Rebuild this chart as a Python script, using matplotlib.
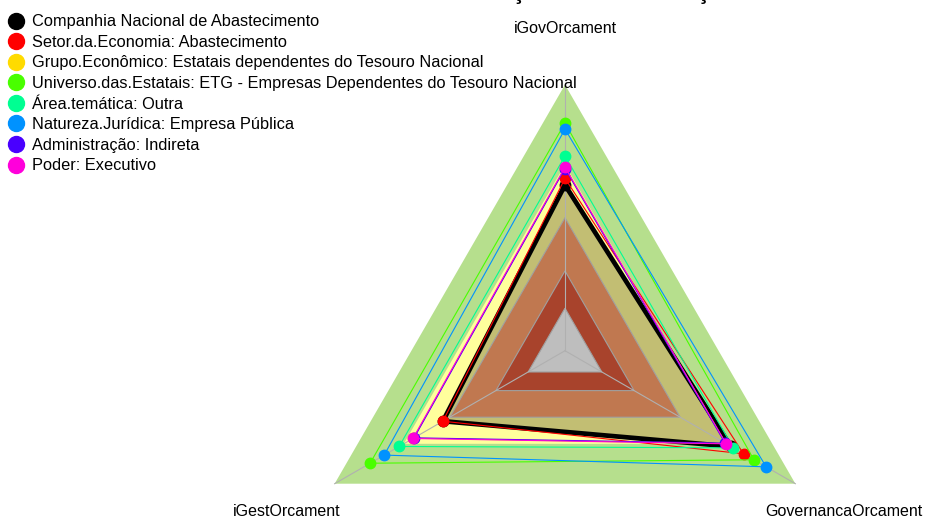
import numpy as np
import matplotlib
matplotlib.use("Agg")
import matplotlib.pyplot as plt
from matplotlib.lines import Line2D

plt.rcParams['font.family'] = ['Liberation Sans', 'DejaVu Sans']

# radar axes: first at the top, then counter-clockwise
axis_labels = ["iGovOrcament", "iGestOrcament", "GovernancaOrcament"]

series_names = [
    "Companhia Nacional de Abastecimento",
    "Setor.da.Economia: Abastecimento",
    "Grupo.Econômico: Estatais dependentes do Tesouro Nacional",
    "Universo.das.Estatais: ETG - Empresas Dependentes do Tesouro Nacional",
    "Área.temática: Outra",
    "Natureza.Jurídica: Empresa Pública",
    "Administração: Indireta",
    "Poder: Executivo",
]
series_colors = ["#000000", "#FF0000", "#FFDB00", "#49FF00",
                 "#00FF92", "#0092FF", "#4900FF", "#FF00DB"]

# values in axis order (iGov, iGest, Governanca)
v_conab = [0.623, 0.53, 0.72]
v_setor = [0.648, 0.53, 0.775]
v_grupo = [0.688, 0.658, 0.698]
v_universo = [0.856, 0.846, 0.82]
v_area = [0.732, 0.72, 0.73]
v_natureza = [0.833, 0.785, 0.873]
v_admin = [0.685, 0.655, 0.695]
v_poder = [0.69, 0.66, 0.70]
series_values = [v_conab, v_setor, v_grupo, v_universo, v_area, v_natureza, v_admin, v_poder]

# reference bands (outer to inner)
band_levels = [1.0, 0.7, 0.5, 0.3, 0.16]
band_colors = ["#B6DF8D", "#FFFF9C", "#C07850", "#A8432C", "#BEBEBE"]
entity_fill = "#C2BE73"

fig = plt.figure(figsize=(9.26, 5.21), dpi=100)
ax = fig.add_axes([0.3229, -0.1837, 0.5745, 1.0211], projection='polar')
ax.set_theta_offset(np.pi / 2)
ax.set_ylim(0, 1)
ax.axis('off')

theta = np.linspace(0, 2 * np.pi, len(axis_labels), endpoint=False)
theta_c = np.append(theta, theta[0])

def closed(vals):
    return np.append(vals, vals[0])

# outer bands
for lvl, col in zip(band_levels[:2], band_colors[:2]):
    ax.fill(theta_c, [lvl] * 4, color=col, lw=0, zorder=1, clip_on=False)
# entity area
ax.fill(theta_c, closed(v_conab), color=entity_fill, lw=0, zorder=2, clip_on=False)
# inner bands
for lvl, col in zip(band_levels[2:], band_colors[2:]):
    ax.fill(theta_c, [lvl] * 4, facecolor=col, edgecolor="#A0A0A0", lw=0.8,
            zorder=3, clip_on=False)

# spokes
for t in theta:
    ax.plot([t, t], [0, 1], color="#B0B0B0", lw=0.8, zorder=4, clip_on=False)

# series
for i, (vals, col) in enumerate(zip(series_values, series_colors)):
    lw = 3.4 if i == 0 else 0.8
    ax.plot(theta_c, closed(vals), color=col, lw=lw, zorder=5 + i, clip_on=False)
    ax.plot(theta, vals, 'o', color=col, ms=7.5, mec=col, zorder=5 + i, clip_on=False)

for t, lab in zip(theta, axis_labels):
    ax.text(t, 1.21, lab, ha='center', va='center', fontsize=11.5, clip_on=False)

handles = [Line2D([], [], marker='o', linestyle='', color=c, markersize=11.5) for c in series_colors]
fig.legend(handles, series_names, loc='upper left', bbox_to_anchor=(-4 / 926, 1 - 2 / 521),
           frameon=False, fontsize=11.8, handlelength=0.9, handletextpad=0.55,
           labelspacing=0.34, borderaxespad=0.45, borderpad=0.3)

fig.text(446 / 926, 1 + 1.5 / 521, "Avaliação da Governança", ha='left', va='baseline',
         fontsize=16.5, fontweight='bold')

fig.savefig("out.png", dpi=100)
